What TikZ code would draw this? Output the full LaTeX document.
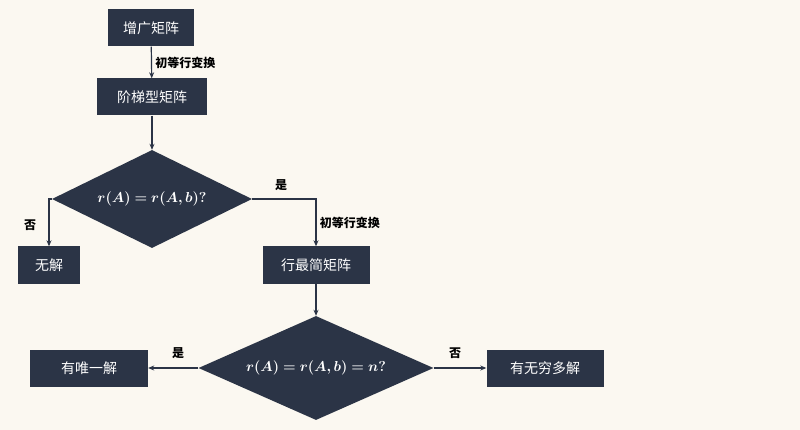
\documentclass[tikz,border=0pt]{standalone}
\usepackage{fontspec}
\usepackage{amsmath,bm}
\newfontfamily\cjk{Noto Sans CJK SC}
\usetikzlibrary{shapes.geometric,arrows.meta}
\definecolor{navy}{HTML}{2B3446}
\definecolor{paper}{HTML}{FBF8F1}

\tikzset{
  box/.style={fill=navy, text=white, font=\cjk\fontsize{14}{16}\selectfont, minimum height=37pt, inner xsep=9pt},
  cond/.style={diamond, fill=navy, text=white, aspect=2, inner sep=0pt},
  flow/.style={-{Stealth[length=6pt,width=5pt]}, draw=navy, line width=1.2pt},
  tag/.style={font=\cjk\bfseries\fontsize{12}{14}\selectfont, text=black}
}

\begin{document}
\begin{tikzpicture}[x=1pt, y=-1pt]
  \fill[paper] (0,0) rectangle (800,430);
  \useasboundingbox (0,0) rectangle (800,430);

  % boxes
  \node[box, minimum width=86pt] (aug) at (151,28) {增广矩阵};
  \node[box, minimum width=110pt] (step) at (152,97) {阶梯型矩阵};
  \node[box, minimum width=62pt] (none) at (49,265) {无解};
  \node[box, minimum width=107pt] (rref) at (316,265) {行最简矩阵};
  \node[box, minimum width=118pt] (one) at (89,368) {有唯一解};
  \node[box, minimum width=117pt] (many) at (545,368) {有无穷多解};

  % conditions
  \node[cond, minimum width=200pt, minimum height=98pt] (d1) at (152,199)
    {\fontsize{15}{17}\selectfont$\bm{r(A)=r(A,b)?}$};
  \node[cond, minimum width=235pt, minimum height=104pt] (d2) at (316,368)
    {\fontsize{15}{17}\selectfont$\bm{r(A)=r(A,b)=n?}$};

  % connectors
  \draw[flow] (aug) -- node[tag, right] {初等行变换} (step);
  \draw[flow] (step) -- (d1.north);
  \draw[flow] (d1.west) -| (none.north);
  \draw[flow] (d1.east) -| node[tag, pos=0.75, right] {初等行变换} (rref.north);
  \draw[flow] (rref) -- (d2.north);
  \draw[flow] (d2.west) -- (one.east);
  \draw[flow] (d2.east) -- (many.west);

  % labels
  \node[tag] (no1) at (30,225) {否};
  \node[tag] (yes1) at (281,185) {是};
  \node[tag] (yes2) at (178,353) {是};
  \node[tag] (no2) at (455,353) {否};
\end{tikzpicture}
\end{document}
